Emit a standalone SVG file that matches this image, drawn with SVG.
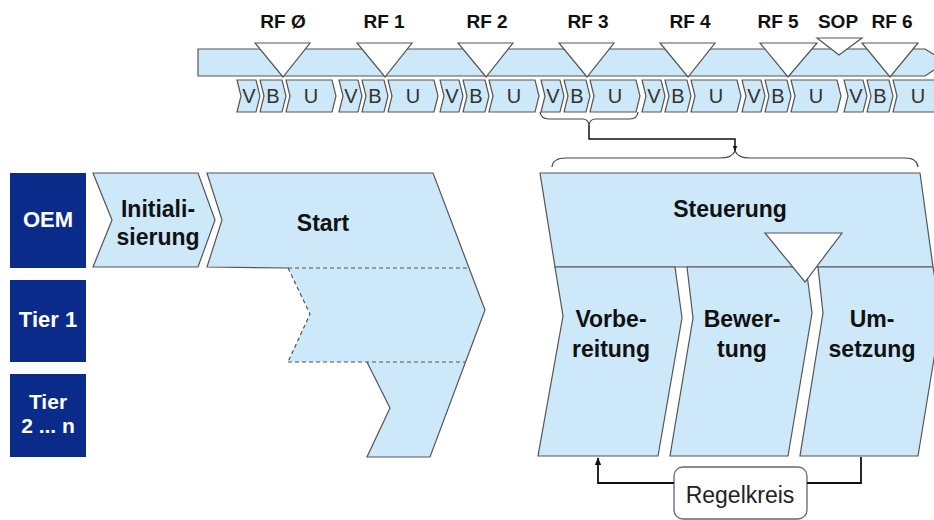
<svg xmlns="http://www.w3.org/2000/svg" width="934" height="520" viewBox="0 0 934 520">
<defs>
<style>
.sh{fill:#cce8f9;stroke:#555;stroke-width:1.2;stroke-linejoin:miter}
.tri{fill:#fff;stroke:#555;stroke-width:1.2}
.dark{fill:#0a2b8a}
.wl{font-family:"Liberation Sans",Arial,sans-serif;font-weight:bold;font-size:22px;fill:#fff;text-anchor:middle}
.bl{font-family:"Liberation Sans",Arial,sans-serif;font-weight:bold;font-size:23px;fill:#111;text-anchor:middle}
.rf{font-family:"Liberation Sans",Arial,sans-serif;font-weight:bold;font-size:19px;fill:#111;text-anchor:middle}
.vbu{font-family:"Liberation Sans",Arial,sans-serif;font-size:20px;fill:#333;text-anchor:middle}
.reg{font-family:"Liberation Sans",Arial,sans-serif;font-size:23px;fill:#222;text-anchor:middle}
.dash{fill:none;stroke:#555;stroke-width:1.2;stroke-dasharray:4 3}
.brace{fill:none;stroke:#444;stroke-width:1.2}
.conn{fill:none;stroke:#111;stroke-width:1.8}
</style>
<marker id="ah" viewBox="0 0 10 10" refX="9" refY="5" markerWidth="6" markerHeight="6" markerUnits="userSpaceOnUse" orient="auto">
<path d="M0,1 L10,5 L0,9 z" fill="#111"/>
</marker>
<marker id="ah2" viewBox="0 0 10 10" refX="9" refY="5" markerWidth="8" markerHeight="8" markerUnits="userSpaceOnUse" orient="auto">
<path d="M0,1 L10,5 L0,9 z" fill="#111"/>
</marker>
</defs>

<!-- Timeline bar -->
<g id="timeline">
<polygon class="sh" points="198,49 925,49 946,62 925,76 198,76"/>
</g>

<!-- VBU strip -->
<g id="vbu-strip">
<g id="phase-0"><polygon class="sh" points="237,80 256,80 260,96 256,112 237,112 241,96"/><polygon class="sh" points="260,80 282,80 286,96 282,112 260,112 264,96"/><polygon class="sh" points="286,80 332,80 336,96 332,112 286,112 290,96"/>
<text class="vbu" x="249" y="103">V</text><text class="vbu" x="273" y="103">B</text><text class="vbu" x="311" y="103">U</text></g>
<g id="phase-1"><polygon class="sh" points="339,80 358,80 362,96 358,112 339,112 343,96"/><polygon class="sh" points="362,80 384,80 388,96 384,112 362,112 366,96"/><polygon class="sh" points="388,80 434,80 438,96 434,112 388,112 392,96"/>
<text class="vbu" x="351" y="103">V</text><text class="vbu" x="375" y="103">B</text><text class="vbu" x="413" y="103">U</text></g>
<g id="phase-2"><polygon class="sh" points="440,80 459,80 463,96 459,112 440,112 444,96"/><polygon class="sh" points="463,80 485,80 489,96 485,112 463,112 467,96"/><polygon class="sh" points="489,80 535,80 539,96 535,112 489,112 493,96"/>
<text class="vbu" x="452" y="103">V</text><text class="vbu" x="476" y="103">B</text><text class="vbu" x="514" y="103">U</text></g>
<g id="phase-3"><polygon class="sh" points="541,80 560,80 564,96 560,112 541,112 545,96"/><polygon class="sh" points="564,80 586,80 590,96 586,112 564,112 568,96"/><polygon class="sh" points="590,80 636,80 640,96 636,112 590,112 594,96"/>
<text class="vbu" x="553" y="103">V</text><text class="vbu" x="577" y="103">B</text><text class="vbu" x="615" y="103">U</text></g>
<g id="phase-4"><polygon class="sh" points="642,80 661,80 665,96 661,112 642,112 646,96"/><polygon class="sh" points="665,80 687,80 691,96 687,112 665,112 669,96"/><polygon class="sh" points="691,80 737,80 741,96 737,112 691,112 695,96"/>
<text class="vbu" x="654" y="103">V</text><text class="vbu" x="678" y="103">B</text><text class="vbu" x="716" y="103">U</text></g>
<g id="phase-5"><polygon class="sh" points="742,80 761,80 765,96 761,112 742,112 746,96"/><polygon class="sh" points="765,80 787,80 791,96 787,112 765,112 769,96"/><polygon class="sh" points="791,80 837,80 841,96 837,112 791,112 795,96"/>
<text class="vbu" x="754" y="103">V</text><text class="vbu" x="778" y="103">B</text><text class="vbu" x="816" y="103">U</text></g>
<g id="phase-6"><polygon class="sh" points="844,80 863,80 867,96 863,112 844,112 848,96"/><polygon class="sh" points="867,80 889,80 893,96 889,112 867,112 871,96"/><polygon class="sh" points="893,80 939,80 943,96 939,112 893,112 897,96"/>
<text class="vbu" x="856" y="103">V</text><text class="vbu" x="880" y="103">B</text><text class="vbu" x="918" y="103">U</text></g>
</g>

<!-- Milestones -->
<g id="milestones">
<g id="rf0"><polygon class="tri" points="255,43 310,43 283,77"/><text class="rf" x="283" y="28">RF Ø</text></g>
<g id="rf1"><polygon class="tri" points="357,43 412,43 385,77"/><text class="rf" x="384" y="28">RF 1</text></g>
<g id="rf2"><polygon class="tri" points="458,43 513,43 486,77"/><text class="rf" x="487" y="28">RF 2</text></g>
<g id="rf3"><polygon class="tri" points="559,43 614,43 587,77"/><text class="rf" x="588" y="28">RF 3</text></g>
<g id="rf4"><polygon class="tri" points="660,43 715,43 688,77"/><text class="rf" x="690" y="28">RF 4</text></g>
<g id="rf5"><polygon class="tri" points="760,43 817,43 788,77"/><text class="rf" x="778" y="28">RF 5</text></g>
<g id="rf6"><polygon class="tri" points="862,43 918,43 890,77"/><text class="rf" x="892" y="28">RF 6</text></g>
<g id="sop"><polygon class="tri" points="817,38 862,38 839,55"/><text class="rf" x="838" y="28">SOP</text></g>
</g>

<!-- Row labels -->
<g id="oem"><rect class="dark" x="10" y="173" width="76" height="95"/><text class="wl" x="48" y="227">OEM</text></g>
<g id="tier1"><rect class="dark" x="10" y="280" width="76" height="82"/><text class="wl" x="48" y="327">Tier 1</text></g>
<g id="tier2n"><rect class="dark" x="10" y="374" width="76" height="83"/><text class="wl" x="48" y="409" style="font-size:21px">Tier</text><text class="wl" x="48" y="433" style="font-size:21px">2 ... n</text></g>

<!-- Initialisierung -->
<g id="initialisierung">
<polygon class="sh" points="93,173 198,173 215,220 198,267 93,267 112,220"/>
<text class="bl" x="158" y="217">Initiali-</text>
<text class="bl" x="158" y="245">sierung</text>
</g>

<!-- Start -->
<g id="start">
<polygon points="207,173 433,173 485,310 430,457 367,457 390,408 367,362 288,362 310,314 288,268 207,267 222,220" fill="#cce8f9" stroke="none"/>
<path class="sh" style="fill:none" d="M288,268 L207,267 L222,220 L207,173 L433,173 L485,310 L430,457 L367,457 L390,408 L367,362"/>
<path class="dash" d="M288,268 L310,314 L288,362 M288,268 L469,268 M288,362 L466,362"/>
<text class="bl" x="323" y="231">Start</text>
</g>

<!-- Steuerung -->
<g id="steuerung">
<polygon class="sh" points="540,173 920,173 933,267 555,267"/>
<text class="bl" x="730" y="217">Steuerung</text>
</g>

<g id="vorbereitung">
<polygon class="sh" points="555,267 675,267 682,318 658,456 538,456 563,316"/>
<text class="bl" x="611" y="327">Vorbe-</text>
<text class="bl" x="611" y="357">reitung</text>
</g>

<g id="bewertung">
<polygon class="sh" points="687,267 806,267 812,313 788,456 670,456 693,318"/>
<text class="bl" x="742" y="327">Bewer-</text>
<text class="bl" x="742" y="357">tung</text>
</g>

<g id="umsetzung">
<polygon class="sh" points="818,267 933,267 941,316 918,456 800,456 823,313"/>
<text class="bl" x="872" y="327">Um-</text>
<text class="bl" x="872" y="357">setzung</text>
</g>

<g id="steuerung-milestone">
<polygon class="tri" points="765,233 842,233 805,282"/>
</g>

<!-- Regelkreis -->
<g id="regelkreis">
<rect x="674" y="467" width="133" height="52" rx="9" ry="9" fill="#fff" stroke="#666" stroke-width="1.3"/>
<text class="reg" x="740" y="503">Regelkreis</text>
</g>

<!-- Connectors -->
<g id="connectors">
<path class="brace" d="M540,112 Q541,119 549,119 L583,119 Q588,119 589,125 Q590,119 595,119 L630,119 Q637,119 638,112"/>
<path class="conn" style="stroke-width:1.5" d="M589,125 L589,139 L735,139 L735,151" marker-end="url(#ah)"/>
<path class="brace" d="M552,167 Q553,158 566,158 L720,158 Q732,158 735,151 Q738,158 750,158 L905,158 Q917,158 918,167"/>
<path class="conn" d="M861,457 L861,483 L807,483"/>
<path class="conn" d="M674,483 L598,483 L598,458" marker-end="url(#ah2)"/>
</g>
</svg>
